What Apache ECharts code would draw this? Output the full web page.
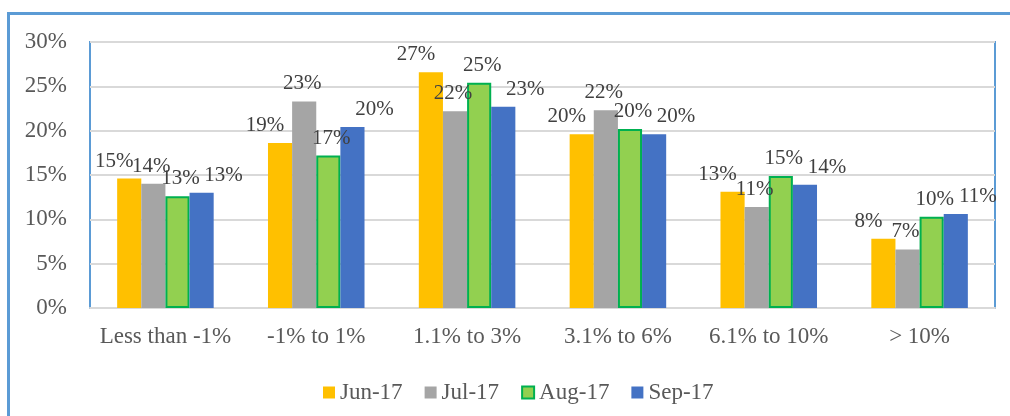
<!DOCTYPE html>
<html>
<head>
<meta charset="utf-8">
<script src="https://cdn.jsdelivr.net/npm/echarts@6/dist/echarts.min.js"></script>
<style>
    html, body { margin: 0; padding: 0; background: #fff; }
    #chart { width: 1010px; height: 416px; }
</style>
</head>
<body>
<div id="chart"></div>
<script>
// categories and monthly shares (%)
const categories = ['Less than -1%', '-1% to 1%', '1.1% to 3%', '3.1% to 6%', '6.1% to 10%', '> 10%'];
const jun17 = [14.6, 18.6, 26.6, 19.6, 13.1, 7.8];
const jul17 = [14.0, 23.3, 22.2, 22.3, 11.4, 6.6];
const aug17 = [12.6, 17.2, 25.4, 20.2, 14.9, 10.3];
const sep17 = [13.0, 20.4, 22.7, 19.6, 13.9, 10.6];
const yTicks = [0, 5, 10, 15, 20, 25, 30];

const font = 'Liberation Serif, Times New Roman, serif';

let myChart = echarts.init(document.getElementById('chart'));

function barSeries(name, data, color, offsetX, border) {
    return {
        name: name,
        type: 'bar',
        data: data,
        barGap: '0%',
        barCategoryGap: '36%',
        itemStyle: {
            color: color,
            borderColor: border || color,
            borderWidth: border ? 2 : 0
        },
        label: {
            show: true,
            position: 'top',
            distance: 7,
            offset: [offsetX, 0],
            color: '#404040',
            fontFamily: font,
            fontSize: 21,
            formatter: (p) => Math.round(p.value) + '%'
        }
    };
}

let option = {
    animation: false,
    backgroundColor: '#fff',
    graphic: [
        {
            type: 'rect',
            shape: { x: 8.5, y: 13.5, width: 1020, height: 430 },
            style: { fill: 'none', stroke: '#5b9bd5', lineWidth: 3 },
            z: 100
        }
    ],
    grid: {
        left: 90,
        top: 42,
        width: 905,
        height: 266,
        show: true,
        borderColor: '#5b9bd5',
        borderWidth: 2,
        backgroundColor: '#fff'
    },
    legend: {
        left: 318,
        top: 376,
        itemWidth: 12,
        itemHeight: 12,
        itemGap: 22,
        textStyle: {
            color: '#595959',
            fontFamily: font,
            fontSize: 23
        },
        data: [
            { name: 'Jun-17', icon: 'rect' },
            { name: 'Jul-17', icon: 'rect' },
            { name: 'Aug-17', icon: 'rect' },
            { name: 'Sep-17', icon: 'rect' }
        ]
    },
    xAxis: {
        type: 'category',
        data: categories,
        axisLine: { lineStyle: { color: '#d9d9d9', width: 2 } },
        axisTick: { show: false },
        axisLabel: {
            interval: 0,
            color: '#595959',
            fontFamily: font,
            fontSize: 23,
            margin: 17
        }
    },
    yAxis: {
        type: 'value',
        min: yTicks[0],
        max: yTicks[yTicks.length - 1],
        interval: 5,
        axisLine: { show: false },
        axisTick: { show: false },
        splitLine: { lineStyle: { color: '#d9d9d9', width: 2 } },
        axisLabel: {
            color: '#595959',
            fontFamily: font,
            fontSize: 23,
            margin: 23,
            formatter: (value) => value + '%'
        }
    },
    series: [
        barSeries('Jun-17', jun17, '#ffc000', -15),
        barSeries('Jul-17', jul17, '#a5a5a5', -2),
        barSeries('Aug-17', aug17, '#92d050', 3, '#00b050'),
        barSeries('Sep-17', sep17, '#4472c4', 22)
    ]
};
myChart.setOption(option);
</script>
</body>
</html>
